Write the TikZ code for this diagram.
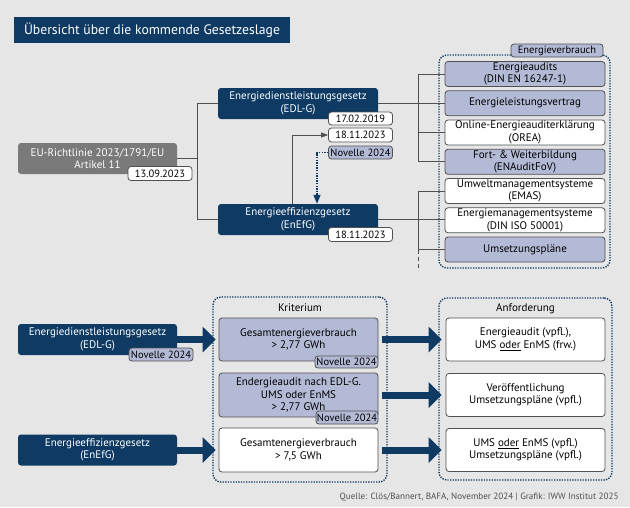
\documentclass[tikz,border=0pt]{standalone}
\usepackage{fontspec}
\setmainfont{PT Sans}
\usetikzlibrary{shapes, arrows.meta}

\definecolor{navy}{HTML}{0E3A63}
\definecolor{lavender}{HTML}{B3BAD6}
\definecolor{boxgray}{HTML}{7A7A7A}
\definecolor{edge}{HTML}{505050}
\definecolor{backdrop}{HTML}{E6E6E6}

\tikzstyle{lawBox} = [rectangle, rounded corners=3pt, fill=navy, text=white, minimum width=159pt,
minimum height=31pt, inner sep=0pt, align=center]
\tikzstyle{euBox} = [lawBox, fill=boxgray]
\tikzstyle{dateTag} = [rectangle, rounded corners=3pt, draw=edge, line width=0.8pt, fill=white,
minimum width=64pt, minimum height=14pt, inner sep=0pt, font=\fontsize{10.5}{11}\selectfont]
\tikzstyle{novelleTag} = [dateTag, fill=lavender]
\tikzstyle{whiteBox} = [rectangle, rounded corners=3pt, draw=edge, line width=0.8pt, fill=white,
minimum width=160pt, minimum height=25pt, inner sep=0pt, align=center]
\tikzstyle{blueBox} = [whiteBox, fill=lavender]
\tikzstyle{dotFrame} = [rectangle, rounded corners=8pt, draw=navy, line width=1.4pt,
dash pattern=on 1.3pt off 1.3pt]
\tikzstyle{line} = [draw=edge, line width=0.8pt]
\tikzstyle{arrow} = [line, -{Triangle[width=5pt,length=7pt]}]
\tikzstyle{dotArrow} = [draw=navy, line width=1.3pt, dash pattern=on 1.3pt off 1.3pt,
-{Triangle[width=7pt,length=9pt]}]
\tikzstyle{bigArrow} = [draw=navy, line width=7pt, -{Triangle[width=25pt,length=13pt]}]

\begin{document}
\begin{tikzpicture}[x=1pt, y=1pt, font=\fontsize{11}{12.5}\selectfont]

    \fill[backdrop] (0,0) rectangle (630,-507);
    \useasboundingbox (0,0) rectangle (630,-507);

    \node (title) [rectangle, fill=navy, text=white, minimum width=276pt, minimum height=26pt,
        font=\fontsize{13.7}{15}\selectfont] at (152,-30) {Übersicht über die kommende Gesetzeslage};

    % upper part: directive and laws
    \node (eu) [euBox] at (97.5,-158.5) {EU-Richtlinie 2023/1791/EU\\Artikel 11};
    \node (euDate) [dateTag] at (160,-173.5) {13.09.2023};

    \node (edl) [lawBox, minimum width=160pt] at (298,-103.5) {Energiedienstleistungsgesetz\\(EDL-G)};
    \node (dateA) [dateTag, minimum height=13pt] at (360.5,-118.5) {17.02.2019};
    \node (dateB) [dateTag] at (360.5,-135) {18.11.2023};
    \node (novTop) [novelleTag, minimum height=13pt] at (360.5,-152.5) {Novelle 2024};

    \node (enefg) [lawBox, minimum width=160pt] at (298,-219.5) {Energieeffizienzgesetz\\(EnEfG)};
    \node (dateC) [dateTag] at (360.5,-234.5) {18.11.2023};

    % Energieverbrauch column
    \node (useFrame) [dotFrame, minimum width=171pt, minimum height=213pt] at (524.5,-161.5) {};
    \node (useTag) [novelleTag, minimum width=92pt, minimum height=13pt] at (557,-50.5) {Energieverbrauch};

    \begin{scope}[node distance=29.25pt]
    \node (audits) [blueBox] at (525,-74) {Energieaudits\\(DIN EN 16247-1)};
    \node (vertrag) [blueBox, below of=audits] {Energieleistungsvertrag};
    \node (online) [whiteBox, below of=vertrag] {Online-Energieauditerklärung\\(OREA)};
    \node (fort) [blueBox, below of=online] {Fort- \& Weiterbildung\\(ENAuditFoV)};
    \node (emas) [whiteBox, below of=fort] {Umweltmanagementsysteme\\(EMAS)};
    \node (enms) [whiteBox, below of=emas] {Energiemanagementsysteme\\(DIN ISO 50001)};
    \node (plaene) [blueBox, below of=enms] {Umsetzungspläne};
    \end{scope}

    \draw[line] (eu.east) -- ++(20,0) coordinate (euFork);
    \draw[line] (edl.west) -| (euFork) |- (enefg.west);

    \coordinate (edlFork) at (418,-74);
    \coordinate (enefgFork) at (418,-190);
    \draw[line] (edl.east) -- (edl.east -| vertrag.west);
    \draw[line] (audits.west) -- (audits.west -| edlFork) |- (fort.west);
    \draw[line] (online.west) -- (online.west -| edlFork);
    \draw[line] (enefg.east) -- (enefg.east -| enms.west);
    \draw[line] (emas.west) -- (emas.west -| enefgFork) |- (plaene.west);
    \draw[line, dash pattern=on 4pt off 3pt] (plaene.west -| enefgFork) -- ++(0,-21);

    \draw[arrow] ([xshift=-6pt]enefg.north) |- (dateB.west);
    \draw[dotArrow] (novTop.west) -| ([xshift=19pt]enefg.north);

    % lower part: criteria and requirements
    \node (edlB) [lawBox] at (97.5,-339.5) {Energiedienstleistungsgesetz\\(EDL-G)};
    \node (novB) [novelleTag, minimum height=13pt] at (161,-354.5) {Novelle 2024};
    \node (enefgB) [lawBox] at (97.5,-450) {Energieeffizienzgesetz\\(EnEfG)};

    \node (critFrame) [dotFrame, minimum width=174pt, minimum height=185pt] at (300,-389.5) {};
    \node (critHead) at (300,-308) {Kriterium};
    \node (k1) [blueBox, minimum width=159pt, minimum height=43pt] at (298.5,-339.5)
        {Gesamtenergieverbrauch\\> 2,77 GWh};
    \node (k1Nov) [novelleTag, minimum width=63pt, minimum height=12pt] at (346.5,-362) {Novelle 2024};
    \node (k2) [blueBox, minimum width=159pt, minimum height=44pt] at (298.5,-395)
        {Endergieaudit nach EDL-G.\\UMS oder EnMS\\> 2,77 GWh};
    \node (k2Nov) [novelleTag, minimum width=62pt, minimum height=13pt] at (347,-417.5) {Novelle 2024};
    \node (k3) [whiteBox, minimum width=159pt, minimum height=44pt] at (298.5,-450)
        {Gesamtenergieverbrauch\\> 7,5 GWh};

    \node (reqFrame) [dotFrame, minimum width=173pt, minimum height=182pt] at (525.5,-389) {};
    \node (reqHead) at (525.5,-309) {Anforderung};
    \node (a1) [whiteBox, minimum width=159pt, minimum height=43pt] at (525.5,-339.5)
        {Energieaudit (vpfl.),\\UMS \underline{oder} EnMS (frw.)};
    \node (a2) [whiteBox, minimum width=159pt, minimum height=43pt] at (525.5,-395)
        {Veröffentlichung\\Umsetzungspläne (vpfl.)};
    \node (a3) [whiteBox, minimum width=159pt, minimum height=43pt] at (525.5,-450)
        {UMS \underline{oder} EnMS (vpfl.)\\Umsetzungspläne (vpfl.)};

    \draw[bigArrow, shorten >=3pt] (edlB.east) -- (k1.west);
    \draw[bigArrow, shorten >=3pt] (enefgB.east) -- (k3.west);
    \draw[bigArrow, shorten <=4pt, shorten >=4pt] (k1.east) -- (a1.west);
    \draw[bigArrow, shorten <=4pt, shorten >=4pt] (k2.east) -- (a2.west);
    \draw[bigArrow, shorten <=4pt, shorten >=4pt] (k3.east) -- (a3.west);

    \node (source) [anchor=east, text=edge, font=\fontsize{9.1}{10}\selectfont] at (622,-497)
        {Quelle: Clös/Bannert, BAFA, November 2024 | Grafik: IWW Institut 2025};

    \end{tikzpicture}
\end{document}
